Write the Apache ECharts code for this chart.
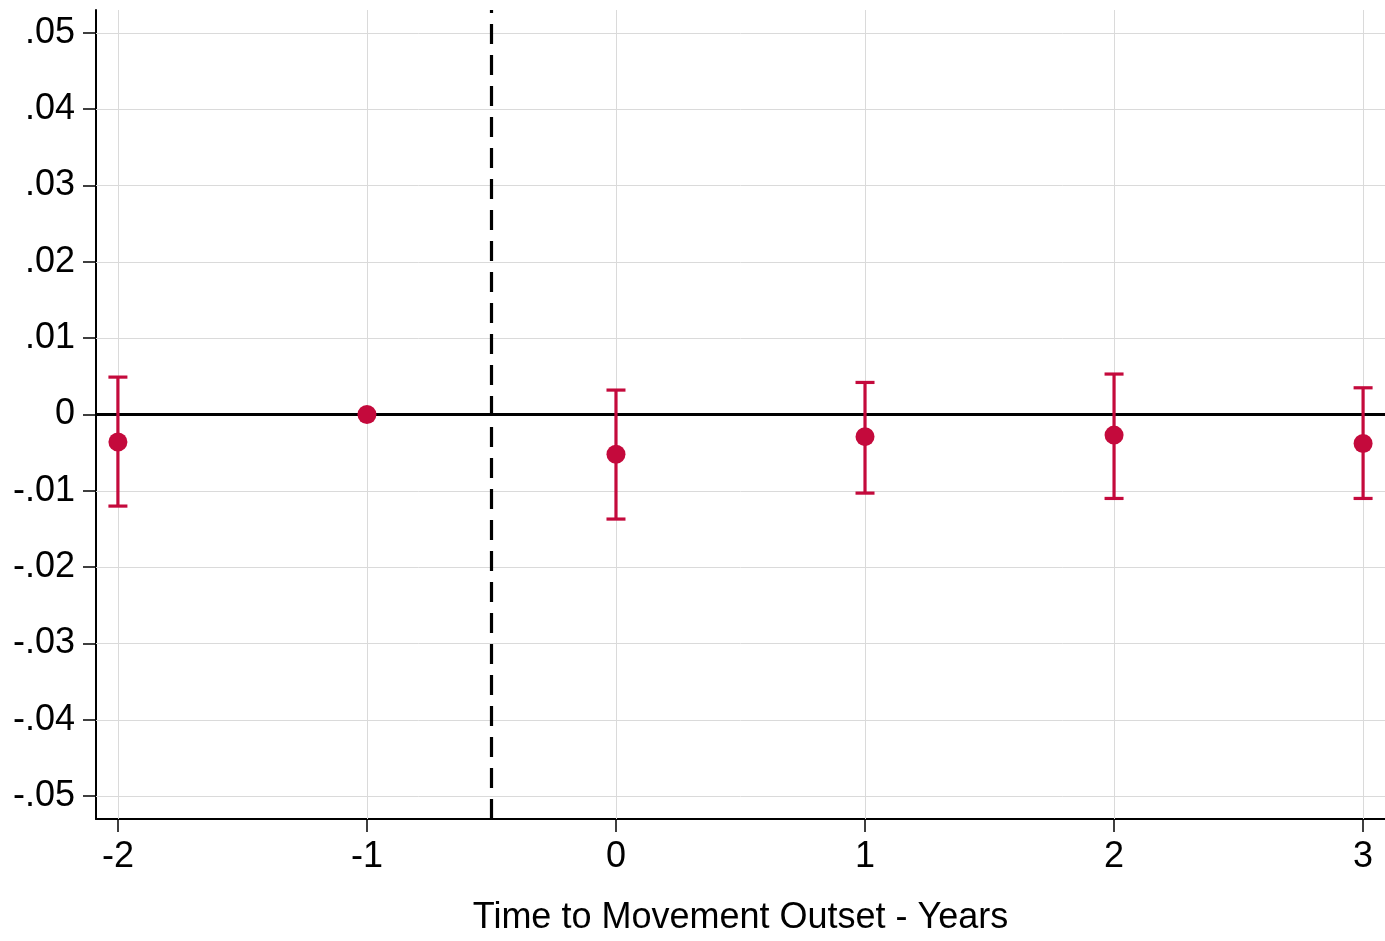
<!DOCTYPE html>
<html>
<head>
<meta charset="utf-8">
<script src="https://cdn.jsdelivr.net/npm/echarts@6/dist/echarts.min.js"></script>
<style>
  html, body { margin: 0; padding: 0; background: #fff; }
  #chart { width: 1385px; height: 941px; }
</style>
</head>
<body>
<div id="chart"></div>
<script>
// Event-study estimates by year relative to movement outset
const years = [-2, -1, 0, 1, 2, 3];
const coef = [-0.0036, 0, -0.0052, -0.0029, -0.0027, -0.0038];
const ciLow = [-0.0120, null, -0.0137, -0.0103, -0.0110, -0.0110];
const ciHigh = [0.0049, null, 0.0032, 0.0042, 0.0053, 0.0035];

// Axis ticks
const xTicks = [-2, -1, 0, 1, 2, 3];
const yTicks = [-0.05, -0.04, -0.03, -0.02, -0.01, 0, 0.01, 0.02, 0.03, 0.04, 0.05];
const yTickLabels = ['-.05', '-.04', '-.03', '-.02', '-.01', '0', '.01', '.02', '.03', '.04', '.05'];

// Reference line separating pre- and post-outset periods
const outsetLine = -0.5;

const RED = '#C40A3C';
const FONT = '"Liberation Sans", Arial, sans-serif';
const FONT_SIZE = 36;
const CI_WIDTH = 3.2;

function yLabel(v) {
  for (let i = 0; i < yTicks.length; i++) {
    if (Math.abs(yTicks[i] - v) < 1e-9) return yTickLabels[i];
  }
  return '';
}

const pointData = years.map((x, i) => [x, coef[i]]);
const ciIdx = years.map((x, i) => i).filter(i => ciLow[i] !== null && ciHigh[i] !== null);

// one vertical segment per confidence interval
const ciSeries = ciIdx.map(i => ({
  type: 'line',
  z: 3,
  silent: true,
  showSymbol: false,
  symbol: 'none',
  data: [[years[i], ciLow[i]], [years[i], ciHigh[i]]],
  lineStyle: { color: RED, width: CI_WIDTH, cap: 'butt' }
}));

// horizontal caps at both ends
const capData = [];
ciIdx.forEach(i => {
  capData.push([years[i], ciLow[i]]);
  capData.push([years[i], ciHigh[i]]);
});

const chart = echarts.init(document.getElementById('chart'), null, { renderer: 'canvas' });

chart.setOption({
  animation: false,
  backgroundColor: '#ffffff',
  grid: { left: 96, right: 0, top: 10, bottom: 119, containLabel: false },
  xAxis: {
    type: 'value',
    min: -2.088,
    max: 3.088,
    name: 'Time to Movement Outset - Years',
    nameLocation: 'middle',
    nameGap: 81,
    nameTextStyle: { fontFamily: FONT, fontSize: FONT_SIZE, color: '#000' },
    axisLine: { show: true, onZero: false, lineStyle: { color: '#000', width: 2 } },
    axisTick: { show: true, length: 13, lineStyle: { color: '#000', width: 1.5 }, customValues: xTicks },
    axisLabel: {
      show: true, margin: 20, fontFamily: FONT, fontSize: FONT_SIZE, color: '#000',
      customValues: xTicks,
      formatter: v => String(v)
    },
    splitLine: { show: false }
  },
  yAxis: {
    type: 'value',
    min: -0.053,
    max: 0.053,
    axisLine: { show: true, onZero: false, lineStyle: { color: '#000', width: 2 } },
    axisTick: { show: true, length: 13, lineStyle: { color: '#000', width: 1.5 }, customValues: yTicks },
    axisLabel: {
      show: true, margin: 21, fontFamily: FONT, fontSize: FONT_SIZE, color: '#000',
      customValues: yTicks,
      formatter: yLabel
    },
    splitLine: { show: false }
  },
  series: [
    {
      // light grid lines at each tick
      type: 'line',
      data: [],
      z: 1,
      silent: true,
      markLine: {
        z: 1,
        silent: true,
        symbol: 'none',
        label: { show: false },
        lineStyle: { color: '#DADADA', width: 1, type: 'solid' },
        data: yTicks.map(v => ({ yAxis: v })).concat(xTicks.map(v => ({ xAxis: v })))
      }
    },
    {
      // zero line and outset line
      type: 'line',
      data: [],
      z: 2,
      silent: true,
      markLine: {
        z: 2,
        silent: true,
        symbol: 'none',
        label: { show: false },
        data: [
          { yAxis: 0, lineStyle: { color: '#000', width: 3, type: 'solid' } },
          { xAxis: outsetLine, lineStyle: { color: '#000', width: 3.2, type: [20, 11] } }
        ]
      }
    },
    ...ciSeries,
    {
      type: 'scatter',
      z: 3,
      silent: true,
      data: capData,
      symbol: 'rect',
      symbolSize: [19, CI_WIDTH],
      itemStyle: { color: RED, opacity: 1 }
    },
    {
      type: 'scatter',
      z: 4,
      data: pointData,
      symbol: 'circle',
      symbolSize: 19,
      itemStyle: { color: RED, opacity: 1 }
    }
  ]
});
</script>
</body>
</html>
